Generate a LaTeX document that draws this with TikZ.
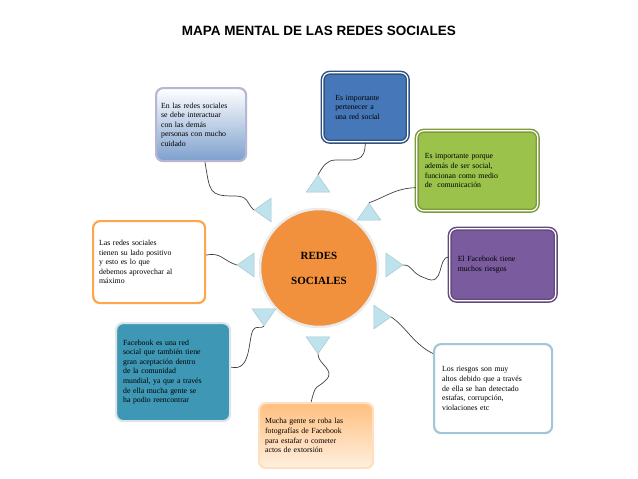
\documentclass[tikz,border=0pt]{standalone}
\usepackage{fontspec}
\setmainfont{Liberation Serif}
\newfontfamily\titlefont{Liberation Sans}
\usetikzlibrary{shapes.geometric}
\definecolor{circ}{HTML}{F2913D}
\definecolor{bblue}{HTML}{4677B8}
\definecolor{bgreen}{HTML}{9BC24A}
\definecolor{bpurple}{HTML}{7A5C9E}
\definecolor{bteal}{HTML}{3E98B5}
\definecolor{tricol}{HTML}{BFE3EC}
\begin{document}
\begin{tikzpicture}[x=1pt,y=-1pt,
 box/.style={draw, line width=2.2pt, rounded corners=7pt, inner sep=4pt, align=left, anchor=north west, font=\fontsize{7.8}{9.6}\selectfont},
 tri/.style={isosceles triangle, isosceles triangle apex angle=70, minimum size=17pt, inner sep=0pt, fill=tricol, draw=cyan!40!gray!60, line width=0.5pt},
 wire/.style={draw=black!75, line width=0.7pt}]
\useasboundingbox (0,0) rectangle (638,479);
\node[font=\titlefont\bfseries\fontsize{13.5}{15}\selectfont] (title) at (319,31) {MAPA MENTAL DE LAS REDES SOCIALES};
\node[circle, minimum size=118pt, fill=circ, draw=black!8, line width=2.5pt, font=\bfseries\fontsize{11}{25}\selectfont, align=center] (c) at (319,268) {REDES\\SOCIALES};
% boxes
\node[box, draw=blue!25!gray!45, top color=white, bottom color=bblue!70, minimum width=90pt, minimum height=73pt, text width=80pt] (A) at (155,87) {En las redes sociales\\se debe interactuar\\con las demás\\personas con mucho\\cuidado};
\node[box, draw=bblue!70!black, fill=bblue, double=white, double distance=1.2pt, line width=1.5pt, minimum width=85pt, minimum height=69pt, text width=72pt, inner sep=6pt] (B) at (322,72) {\hspace*{6pt}Es importante\\\hspace*{6pt}pertenecer a\\\hspace*{6pt}una red social};
\node[box, draw=bgreen!80!black, fill=bgreen, double=white, double distance=1.2pt, line width=1.5pt, minimum width=119pt, minimum height=80pt, text width=105pt, inner sep=8pt] (C) at (416,130) {Es importante porque\\además de ser social,\\funcionan como medio\\de \ comunicación};
\node[box, draw=orange!70, fill=white, minimum width=111pt, minimum height=82pt, text width=100pt, inner sep=6pt] (D) at (92,220) {Las redes sociales\\tienen su lado positivo\\y esto es lo que\\debemos aprovechar al\\máximo};
\node[box, draw=bpurple!80!black, fill=bpurple, double=white, double distance=1.2pt, line width=1.5pt, minimum width=105pt, minimum height=72pt, text width=90pt, inner sep=8pt] (E) at (449,228) {El Facebook tiene\\muchos riesgos\\[30pt]};
\node[box, draw=cyan!15!gray!25, fill=bteal, minimum width=110pt, minimum height=98pt, text width=100pt, inner sep=7pt] (F) at (115,322) {Facebook es una red\\social que también tiene\\gran aceptación dentro\\de la comunidad\\mundial, ya que a través\\de ella mucha gente se\\ha podio reencontrar};
\node[box, draw=orange!25, top color=orange!50, bottom color=orange!12, minimum width=114pt, minimum height=65pt, text width=102pt, inner sep=6pt] (G) at (258,402) {Mucha gente se roba las\\fotografías de Facebook\\para estafar o cometer\\actos de extorsión};
\node[box, draw=cyan!45!gray!60, fill=white, minimum width=114pt, minimum height=89pt, text width=102pt, inner sep=8pt] (H) at (433,343) {Los riesgos son muy\\altos debido que a través\\de ella se han detectado\\estafas, corrupción,\\violaciones etc};
% triangles, apex pointing away from the circle
\node[tri, shape border rotate=135] (tA) at (265,210) {};
\node[tri, shape border rotate=90] (tB) at (318,186) {};
\node[tri, shape border rotate=45] (tC) at (369,214) {};
\node[tri, shape border rotate=180] (tD) at (248,265) {};
\node[tri, shape border rotate=0] (tE) at (392,265) {};
\node[tri, shape border rotate=-135] (tF) at (264,315) {};
\node[tri, shape border rotate=-90] (tG) at (318,343) {};
\node[tri, shape border rotate=-45] (tH) at (380,317) {};
% wires
\draw[wire] (A.south west) ++(50,0) coordinate (a0) .. controls +(5,30) and +(-25,0) .. (234,196) .. controls +(15,0) and +(-8,-8) .. (tA.apex);
\draw[wire] (B.south) .. controls +(0,20) and +(20,0) .. (336,160) .. controls +(-10,0) and +(5,-8) .. (tB.apex);
\draw[wire] (C.west) ++(0,17) coordinate (c0) .. controls +(-20,0) and +(15,-5) .. (tC.apex);
\draw[wire] (D.east) ++(0,-7) coordinate (d0) .. controls +(15,-3) and +(-15,-5) .. (tD.apex);
\draw[wire] (E.west) ++(0,-8) coordinate (e0) .. controls +(-12,0) and +(20,10) .. (425,278) .. controls +(-15,-5) and +(10,0) .. (tE.apex);
\draw[wire] (F.east) ++(0,-5) coordinate (f0) .. controls +(20,5) and +(-5,10) .. (253,330) .. controls +(3,-5) and +(-3,3) .. (tF.apex);
\draw[wire] (G.north) ++(-5,0) coordinate (g0) .. controls +(5,-20) and +(-10,10) .. (326,380) .. controls +(10,-10) and +(0,10) .. (tG.apex);
\draw[wire] (H.west) ++(0,-35) coordinate (h0) .. controls +(-20,-10) and +(15,10) .. (tH.apex);
\end{tikzpicture}
\end{document}
